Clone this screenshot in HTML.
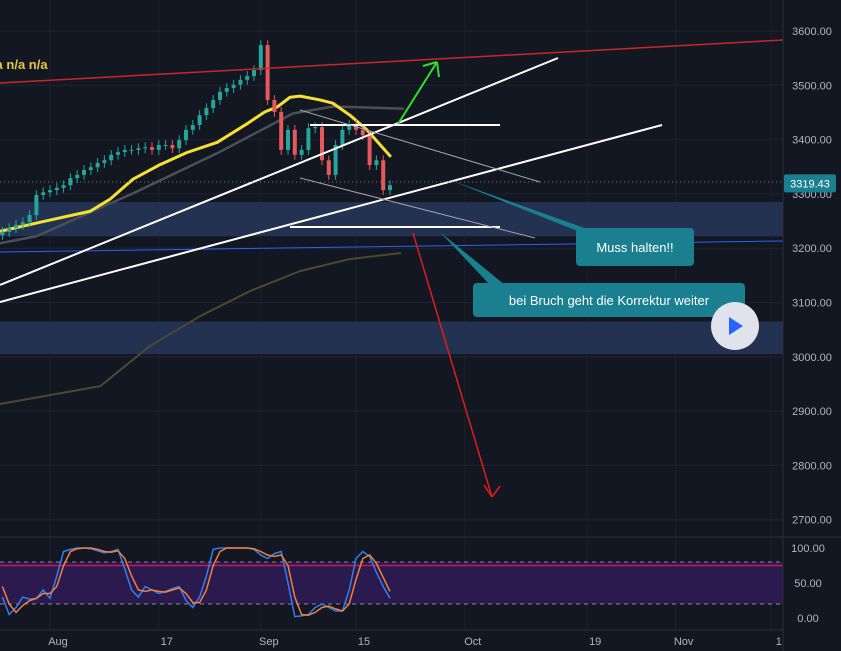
<!DOCTYPE html>
<html><head><meta charset="utf-8"><style>
html,body{margin:0;padding:0;background:#131722;}
svg{display:block;font-family:"Liberation Sans",sans-serif;}
</style></head><body>
<svg id="chart" width="841" height="651" viewBox="0 0 841 651" xmlns="http://www.w3.org/2000/svg">
<rect x="0" y="0" width="841" height="651" fill="#131722"/>
<g id="grid"></g>
<g id="zones"></g>
<g id="mas"></g>
<g id="candles"></g>
<g id="draw"></g>
<g id="stoch"></g>
<g id="axes"></g>
</svg>
<script>
const priceTicks=[3600,3500,3400,3300,3200,3100,3000,2900,2800,2700];
const dateTickDays=[0,16,31,45,61,79,92,106];
const dateTickLabels=["Aug","17","Sep","15","Oct","19","Nov","1"];
const firstDay=-8;
const closes=[3224,3230,3237,3243,3248,3261,3298,3303,3307,3311,3316,3329,3335,3344,3349,3357,3362,3372,3377,3381,3381,3384,3386,3381,3390,3390,3384,3399,3418,3427,3445,3458,3473,3488,3495,3501,3510,3517,3528,3574,3473,3451,3381,3418,3372,3381,3421,3423,3362,3335,3390,3418,3427,3418,3408,3353,3362,3307,3316];
const firstOpen=3215;
const stochFirstDay=-7;
const stochK=[30,5,15,30,27,28,40,28,60,95,98,100,100,99,96,93,95,98,70,40,30,45,40,35,38,42,45,25,15,30,60,98,100,100,100,100,100,98,90,85,92,95,50,2,3,5,15,20,15,10,10,40,85,95,88,65,45,28];
const stochD=[45,20,8,18,25,28,35,35,45,75,95,99,100,100,98,95,94,96,85,60,40,38,40,38,37,40,43,35,22,22,40,75,95,100,100,100,100,99,95,90,88,90,75,30,5,4,8,15,17,13,10,20,55,85,90,78,58,38];
const lastPrice=3319.43;

const NS="http://www.w3.org/2000/svg";
const X=d=>50+6.8*d;
const Y=p=>31+(3600-p)*0.543;
const SY=v=>618-v*0.70;
const PW=783;
function mk(parent,tag,attrs,txt){const e=document.createElementNS(NS,tag);for(const k in attrs)e.setAttribute(k,attrs[k]);if(txt!==undefined)e.textContent=txt;document.getElementById(parent).appendChild(e);return e;}

priceTicks.forEach(p=>{const l=mk('grid','line',{x1:0,x2:PW,y1:Y(p),y2:Y(p),stroke:'#1f2330','stroke-width':1});

});
dateTickDays.forEach(d=>{const l=mk('grid','line',{x1:X(d),x2:X(d),y1:0,y2:630,stroke:'#1c202b','stroke-width':1});

});

let z1=mk('zones','rect',{x:0,y:Y(3285),width:PW,height:Y(3222)-Y(3285),fill:'#243252'});


let z2=mk('zones','rect',{x:0,y:Y(3065),width:PW,height:Y(3005)-Y(3065),fill:'#243252'});



const maYellowDays=[-7.4,-1,5.9,8.8,12.2,16.2,20.1,24.6,28.7,31.6,33.4,35.3,36.8,39.7,41.6,44.1,46.6,50];
const maYellowVals=[3231,3249,3268,3290,3327,3354,3376,3395,3427,3451,3460,3478,3480,3473,3467,3445,3418,3370];
const ma50Days=[-7.4,-2,12.2,24.6,35.7,41.6,51.9];
const ma50Vals=[3209,3222,3301,3375,3448,3461,3457];
const ma200Days=[-7.4,7.4,14.7,22.1,29.4,36.8,44.1,51.5];
const ma200Vals=[2913,2946,3020,3075,3121,3158,3180,3191];
function poly(days,vals,stroke,w,name,op){const pts=days.map((d,i)=>X(d)+','+Y(vals[i])).join(' ');
const e=mk('mas','polyline',{points:pts,fill:'none',stroke:stroke,'stroke-width':w,'stroke-linejoin':'round','stroke-linecap':'round',opacity:op});

}
poly(ma200Days,ma200Vals,'#4a4a30',2,'ma-200-line',1);
poly(ma50Days,ma50Vals,'#4a5058',2.5,'ma-50-line',1);
poly(maYellowDays,maYellowVals,'#f5e033',3,'ma-20-line',1);

let prev=firstOpen;
closes.forEach((c,i)=>{const d=firstDay+i,o=prev;prev=c;
const up=c>=o,col=up?'#26a69a':'#e5595b';
let hi=Math.max(o,c)+9,lo=Math.min(o,c)-9;
const w=mk('candles','line',{x1:X(d),x2:X(d),y1:Y(hi),y2:Y(lo),stroke:col,'stroke-width':1});


const b=mk('candles','rect',{x:X(d)-2,y:Y(Math.max(o,c)),width:4,height:Math.max(1,Math.abs(Y(o)-Y(c))),fill:col});

});

function L(x1,y1,x2,y2,s,w,name){const e=mk('draw','line',{x1,y1,x2,y2,stroke:s,'stroke-width':w});

return e;}
L(0,83,PW,40,'#c62828',1.5,'resistance-trendline');
L(0,252,PW,241,'#2962ff',1,'blue-trendline');
L(0,285,558,58,'#ffffff',2,'uptrend-line-upper');
L(0,302,662,125,'#ffffff',2,'uptrend-line-lower');
L(310,125,500,125,'#ffffff',2,'horizontal-resistance');
L(290,227,500,227,'#ffffff',2,'horizontal-support');
L(300,110,540,182,'#a0a3ac',1,'channel-upper');
L(300,178,535,238,'#a0a3ac',1,'channel-lower');
L(0,182,PW,182,'#5a7f86',1,'last-price-line').setAttribute('stroke-dasharray','1 3');
L(398,124,437,62,'#2ee02e',2,'bullish-arrow');
L(437,62,423,66,'#2ee02e',2,'bullish-arrow-head');
L(437,62,439,77,'#2ee02e',2,'bullish-arrow-head');
L(413,233,492,497,'#e01c1c',1.5,'bearish-arrow');
L(492,497,484,485,'#e01c1c',1.5,'bearish-arrow-head');
L(492,497,500,486,'#e01c1c',1.5,'bearish-arrow-head');
let p1=mk('draw','polygon',{points:'450,180 590,230 600,240',fill:'#1a7f8e'});


let p2=mk('draw','polygon',{points:'440,232 490,285 505,285',fill:'#1a7f8e'});


let c1=mk('draw','rect',{x:576,y:228,width:118,height:38,rx:4,fill:'#1a7f8e'});


let t1=mk('draw','text',{x:635,y:252,fill:'#fff','font-size':13,'text-anchor':'middle'},'Muss halten!!');


let c2=mk('draw','rect',{x:473,y:283,width:272,height:34,rx:4,fill:'#1a7f8e'});


let t2=mk('draw','text',{x:609,y:305,fill:'#fff','font-size':13,'text-anchor':'middle'},'bei Bruch geht die Korrektur weiter');


let pb=mk('draw','circle',{cx:735,cy:326,r:24,fill:'#e0e3eb'});


let pt=mk('draw','polygon',{points:'729,317 729,335 743,326',fill:'#2962ff'});


let lg=mk('draw','text',{x:-16,y:69,fill:'#e8c547','font-size':13,'font-weight':'bold'},'n/a n/a n/a');



let sep=mk('stoch','line',{x1:0,x2:841,y1:537,y2:537,stroke:'#2a2e39','stroke-width':1});


let band=mk('stoch','rect',{x:0,y:SY(80),width:PW,height:SY(20)-SY(80),fill:'#2a1a4e'});


[80,20].forEach(v=>{const e=mk('stoch','line',{x1:0,x2:PW,y1:SY(v),y2:SY(v),stroke:'#8a8a9a','stroke-width':1,'stroke-dasharray':'4 4'});

});
let pk=mk('stoch','line',{x1:0,x2:PW,y1:SY(75),y2:SY(75),stroke:'#c2185b','stroke-width':1.5});


function sline(arr,col,name){const pts=arr.map((v,i)=>X(stochFirstDay+i)+','+SY(v)).join(' ');
const e=mk('stoch','polyline',{points:pts,fill:'none',stroke:col,'stroke-width':1.5});

}
sline(stochK,'#2f7fef','stoch-k-line');
sline(stochD,'#f0803c','stoch-d-line');
let bt=mk('stoch','line',{x1:0,x2:PW,y1:630,y2:630,stroke:'#2a2e39','stroke-width':1});



let ab=mk('axes','line',{x1:PW,x2:PW,y1:0,y2:651,stroke:'#2a2e39','stroke-width':1});


priceTicks.forEach(p=>{const t=mk('axes','text',{x:812,y:Y(p)+4,fill:'#b2b5be','font-size':11,'text-anchor':'middle'},p.toFixed(2));

});
[100,50,0].forEach(v=>{const t=mk('axes','text',{x:808,y:SY(v)+4,fill:'#b2b5be','font-size':11,'text-anchor':'middle'},v.toFixed(2));

});
dateTickDays.forEach((d,i)=>{const t=mk('axes','text',{x:X(d)+8,y:645,fill:'#b2b5be','font-size':11,'text-anchor':'middle'},dateTickLabels[i]);

});
let lb=mk('axes','rect',{x:784,y:Y(lastPrice)-9,width:52,height:18,fill:'#1a7f8e',rx:2});


let lt=mk('axes','text',{x:810,y:Y(lastPrice)+4,fill:'#fff','font-size':11,'text-anchor':'middle'},lastPrice.toFixed(2));


</script>
</body></html>
